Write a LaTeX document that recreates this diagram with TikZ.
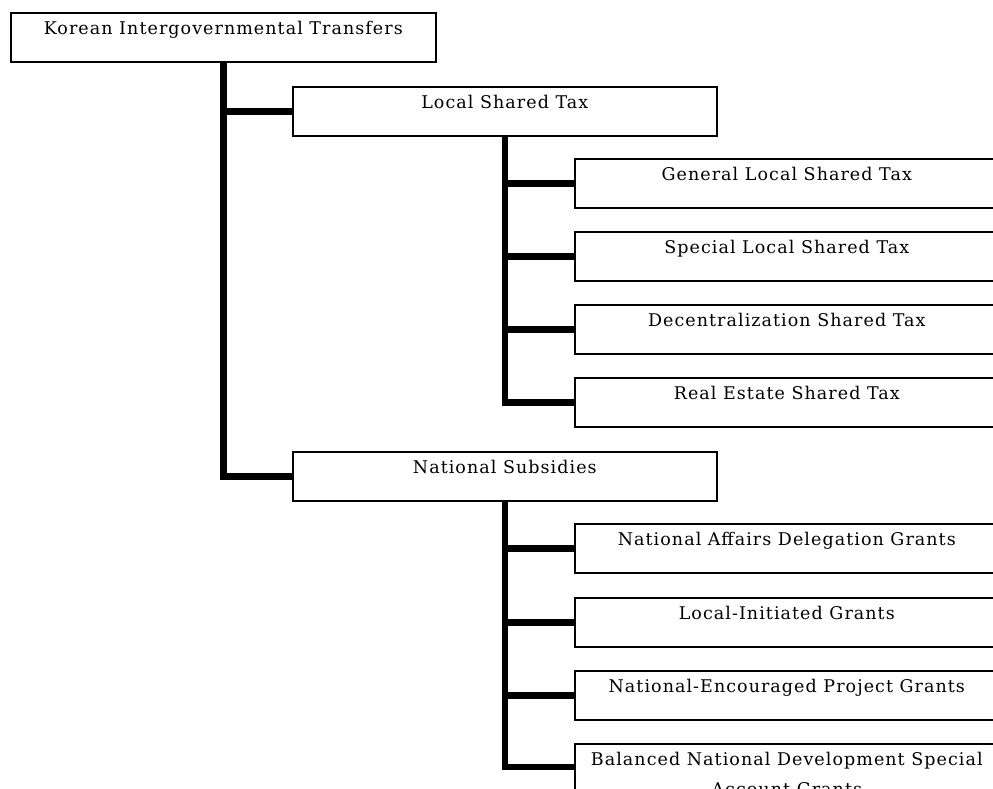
\documentclass[tikz,border=0pt]{standalone}
\usepackage{fontspec}
\setmainfont[LetterSpace=6]{DejaVu Serif}
\begin{document}
\begin{tikzpicture}[x=1pt,y=-1pt,
  box/.style={draw=black,line width=1.6pt,fill=white,rectangle,anchor=north west,
    inner xsep=4pt,inner ysep=0pt,minimum height=49pt,minimum width=424pt,
    text height=22pt,text depth=27pt,
    font=\fontsize{17.5}{30}\selectfont},
  link/.style={line width=6.5pt}]
\useasboundingbox (0,0) rectangle (993,789);
\clip (0,0) rectangle (993,789);
\node[box,minimum width=425pt] (root) at (10,12) {Korean Intergovernmental Transfers};
\node[box,minimum height=48pt] (lst) at (292,86) {Local Shared Tax};
\node[box] (gen) at (574,158) {General Local Shared Tax};
\node[box] (spe) at (574,231) {Special Local Shared Tax};
\node[box] (dec) at (574,304) {Decentralization Shared Tax};
\node[box] (rea) at (574,377) {Real Estate Shared Tax};
\node[box,minimum height=48pt] (nat) at (292,451) {National Subsidies};
\node[box] (nad) at (574,523) {National Affairs Delegation Grants};
\node[box] (loc) at (574,597) {Local-Initiated Grants};
\node[box] (nep) at (574,670) {National-Encouraged Project Grants};
\node[box,align=center,text height=52pt,text depth=10pt] (bal) at (574,743) {Balanced National Development Special\\Account Grants};
\draw[link] (root.south) |- (nat.west);
\draw[link] (root.south |- lst.west) -- (lst.west);
\draw[link] (lst.south) |- (rea.west);
\draw[link] (lst.south |- gen.west) -- (gen.west);
\draw[link] (lst.south |- spe.west) -- (spe.west);
\draw[link] (lst.south |- dec.west) -- (dec.west);
\draw[link] (nat.south) |- ([yshift=-24pt]bal.north west);
\draw[link] (nat.south |- nad.west) -- (nad.west);
\draw[link] (nat.south |- loc.west) -- (loc.west);
\draw[link] (nat.south |- nep.west) -- (nep.west);
\end{tikzpicture}
\end{document}
